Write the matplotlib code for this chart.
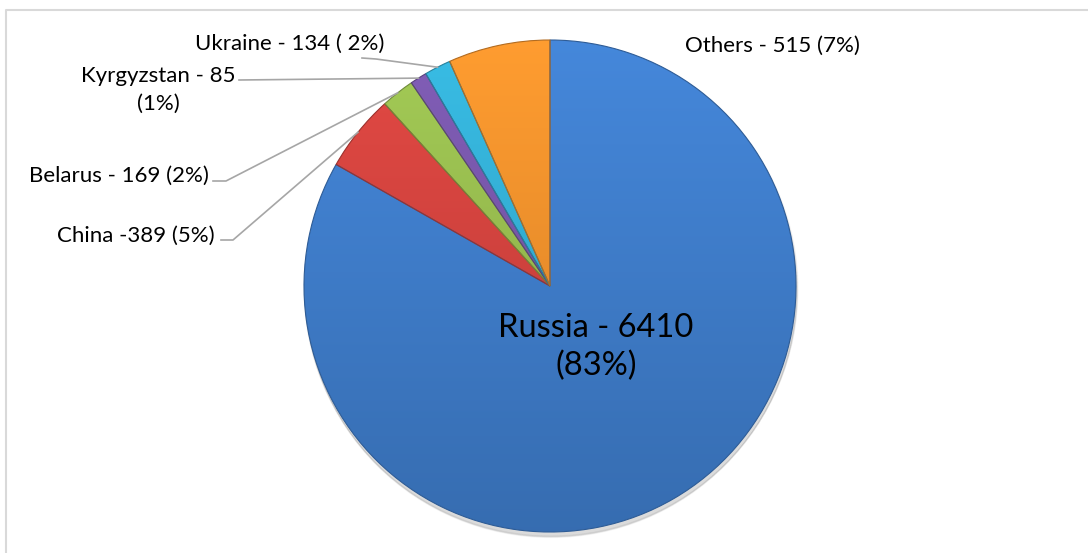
import numpy as np
import matplotlib
matplotlib.use("Agg")
import matplotlib.pyplot as plt
from matplotlib.colors import to_rgb

countries = ["Russia", "China", "Belarus", "Kyrgyzstan", "Ukraine", "Others"]
counts = [6410, 389, 169, 85, 134, 515]
labels = ["Russia - 6410\n(83%)", "China -389 (5%)", "Belarus - 169 (2%)",
          "Kyrgyzstan - 85\n(1%)", "Ukraine - 134 ( 2%)", "Others - 515 (7%)"]
colors = ["#4080D0", "#D8443F", "#9BC150", "#7A58AE", "#34B3DA", "#F7942C"]

W, H = 1088, 553
plt.rcParams["font.family"] = ["Lato", "DejaVu Sans"]
fig = plt.figure(figsize=(W / 100, H / 100), dpi=100)
ax = fig.add_axes([0, 0, 1, 1])

cx, cy, R = 550, H - 286, 246

# soft shadow under the pie
for k in range(6):
    ax.add_patch(plt.Circle((cx + 1, cy - 3 - k * 0.6), R + 1 - k * 0.3,
                            color="black", alpha=0.025, zorder=0))

wedges, _ = ax.pie(counts, colors=colors, startangle=90, counterclock=False,
                   center=(cx, cy), radius=R, frame=True,
                   wedgeprops=dict(linewidth=0.8))
# vertical light->dark shading clipped to every slice
t = np.linspace(0, 1, 256)[:, None]
for w, c in zip(wedges, colors):
    rgb = np.array(to_rgb(c))
    top = np.clip(rgb * 1.04 + 0.01, 0, 1)
    bot = rgb * 0.85
    grad = (bot[None, :] * (1 - t) + top[None, :] * t)[:, None, :]
    im = ax.imshow(grad, extent=(cx - R, cx + R, cy - R, cy + R),
                   origin="lower", aspect="auto", zorder=w.get_zorder(),
                   interpolation="bilinear")
    im.set_clip_path(w)
    w.set_edgecolor(tuple(v * 0.72 for v in rgb))
    w.set_facecolor("none")
    w.set_zorder(w.get_zorder() + 0.1)

ax.set_xlim(0, W)
ax.set_ylim(0, H)
ax.set_aspect("equal")
ax.axis("off")

# chart frame (light gray, clipped at right/bottom)
ax.plot([6, 6, W + 5], [-5, H - 10, H - 10], color="#D9D9D9", lw=1.5, zorder=0)


def edge_pt(w):
    a = np.deg2rad((w.theta1 + w.theta2) / 2)
    return cx + R * np.cos(a), cy + R * np.sin(a)


fs = 16
lc = "#A6A6A6"
# Russia label inside
ax.text(596, H - 347, labels[0], ha="center", va="center", fontsize=23.5,
        color="#000000", linespacing=1.3, zorder=5)
# China
ax.text(215, H - 236, labels[1], ha="right", va="center", fontsize=fs)
ex, ey = edge_pt(wedges[1])
ax.plot([221, 233, ex], [H - 240, H - 240, ey], color=lc, lw=1.2)
# Belarus
ax.text(209, H - 176, labels[2], ha="right", va="center", fontsize=fs)
ex, ey = edge_pt(wedges[2])
ax.plot([213, 226, ex], [H - 181, H - 181, ey], color=lc, lw=1.2)
# Kyrgyzstan
ax.text(158, H - 90, labels[3], ha="center", va="center", fontsize=fs,
        linespacing=1.5)
ex, ey = edge_pt(wedges[3])
ax.plot([239, ex], [H - 80, ey], color=lc, lw=1.2)
# Ukraine
ax.text(290, H - 44, labels[4], ha="center", va="center", fontsize=fs)
ex, ey = edge_pt(wedges[4])
ax.plot([362, 376, ex], [H - 58, H - 59, ey], color=lc, lw=1.2)
# Others
ax.text(772, H - 46, labels[5], ha="center", va="center", fontsize=fs)

fig.savefig("out.png", dpi=100)
